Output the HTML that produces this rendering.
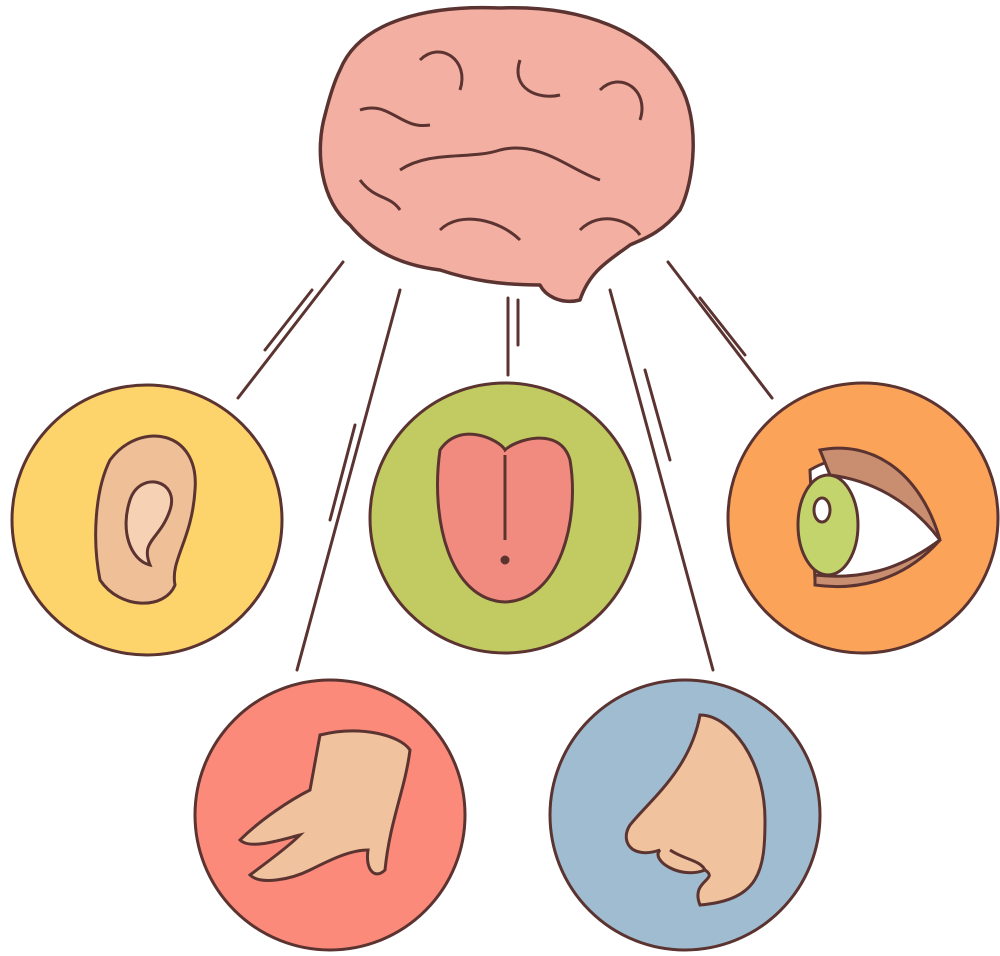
<!DOCTYPE html>
<html><head><meta charset="utf-8"><style>html,body{margin:0;padding:0;background:#fff}svg{display:block}</style></head>
<body>
<svg width="1000" height="956" viewBox="0 0 1000 956" xmlns="http://www.w3.org/2000/svg">
<g stroke="#5b3431" stroke-width="3" fill="none" stroke-linecap="round">
<line x1="343" y1="262" x2="238" y2="398"/>
<line x1="400" y1="290" x2="297" y2="670"/>
<line x1="508" y1="298" x2="508" y2="375"/>
<line x1="610" y1="290" x2="713" y2="670"/>
<line x1="668" y1="262" x2="772" y2="398"/>
<line x1="312" y1="290" x2="265" y2="350"/>
<line x1="355" y1="425" x2="330" y2="520"/>
<line x1="518" y1="300" x2="518" y2="345"/>
<line x1="645" y1="370" x2="670" y2="460"/>
<line x1="700" y1="298" x2="745" y2="355"/>
</g>
<g stroke="#5b3431" stroke-width="3">
<circle cx="147" cy="520" r="135" fill="#FDD36B"/>
<circle cx="505" cy="518" r="135" fill="#C2CB62"/>
<circle cx="863" cy="518" r="135" fill="#FBA358"/>
<circle cx="330" cy="815" r="135" fill="#FB8A7A"/>
<circle cx="685" cy="815" r="135" fill="#A0BCD0"/>
</g>
<!-- brain -->
<g stroke="#5b3431" stroke-width="3.5" stroke-linejoin="round">
<path d="M340 70 C360 20 430 5 500 8 C580 5 650 30 680 85 C700 120 695 180 680 210 C660 235 640 240 630 245 C610 260 590 270 580 300 C560 305 545 295 540 285 C500 285 470 280 440 270 C400 265 370 250 350 225 C320 200 315 150 325 115 C330 95 335 80 340 70 Z" fill="#F4AFA3"/>
<g fill="none" stroke-width="3">
<path d="M360 110 C390 100 400 130 430 125"/>
<path d="M420 60 C440 40 470 60 460 90"/>
<path d="M520 60 C510 90 540 100 560 95"/>
<path d="M600 90 C620 70 650 90 640 120"/>
<path d="M400 170 C430 150 470 160 500 150 C540 140 570 170 600 180"/>
<path d="M440 230 C460 210 500 220 520 240"/>
<path d="M580 230 C600 210 630 220 640 235"/>
<path d="M360 180 C375 200 390 195 400 210"/>
</g>
</g>
<!-- ear -->
<g stroke="#5b3431" stroke-width="3">
<path d="M110 460 C140 420 200 430 195 490 C192 540 170 560 175 585 C165 610 120 610 100 580 C92 540 95 490 110 460 Z" fill="#EFBF98"/>
<path d="M130 500 C140 470 180 480 170 510 C160 540 140 540 150 565 C130 560 120 530 130 500 Z" fill="#F7D1B3"/>
</g>
<!-- tongue -->
<g stroke="#5b3431" stroke-width="3">
<path d="M440 450 C460 420 500 440 505 450 C515 440 560 425 570 460 C580 520 560 600 505 602 C450 600 430 520 440 450 Z" fill="#F28B7F"/>
<line x1="505" y1="455" x2="505" y2="540"/>
<circle cx="505" cy="560" r="3" fill="#5b3431"/>
</g>
<!-- eye -->
<g stroke="#5b3431" stroke-width="3">
<path d="M810 470 C860 440 920 470 940 540 C900 570 860 580 815 580 Z" fill="#fff"/>
<path d="M820 450 C870 440 920 470 940 540 C910 500 870 480 830 475 Z" fill="#C98E70"/>
<ellipse cx="828" cy="525" rx="30" ry="50" fill="#C2D46B"/>
<ellipse cx="822" cy="510" rx="8" ry="12" fill="#fff"/>
<path d="M815 575 C860 580 900 570 940 540 C900 585 850 590 815 585 Z" fill="#C98E70"/>
</g>
<!-- hand -->
<g stroke="#5b3431" stroke-width="3">
<path d="M320 735 C360 725 400 735 410 750 C405 790 390 820 385 870 C375 880 365 870 368 850 C350 850 330 860 310 870 C290 880 260 885 250 875 C270 860 290 845 300 835 C280 840 250 850 240 840 C260 820 290 800 310 790 Z" fill="#F1C29E"/>
</g>
<!-- nose -->
<g stroke="#5b3431" stroke-width="3">
<path d="M700 715 C730 715 765 760 765 820 C765 870 760 900 700 905 C690 880 720 880 705 870 C680 880 650 860 660 850 C630 860 620 840 630 825 C650 800 690 770 700 715 Z" fill="#F1C29E"/>
<path d="M670 850 C685 860 700 860 705 870" fill="none"/>
</g>
</svg>
</body></html>
